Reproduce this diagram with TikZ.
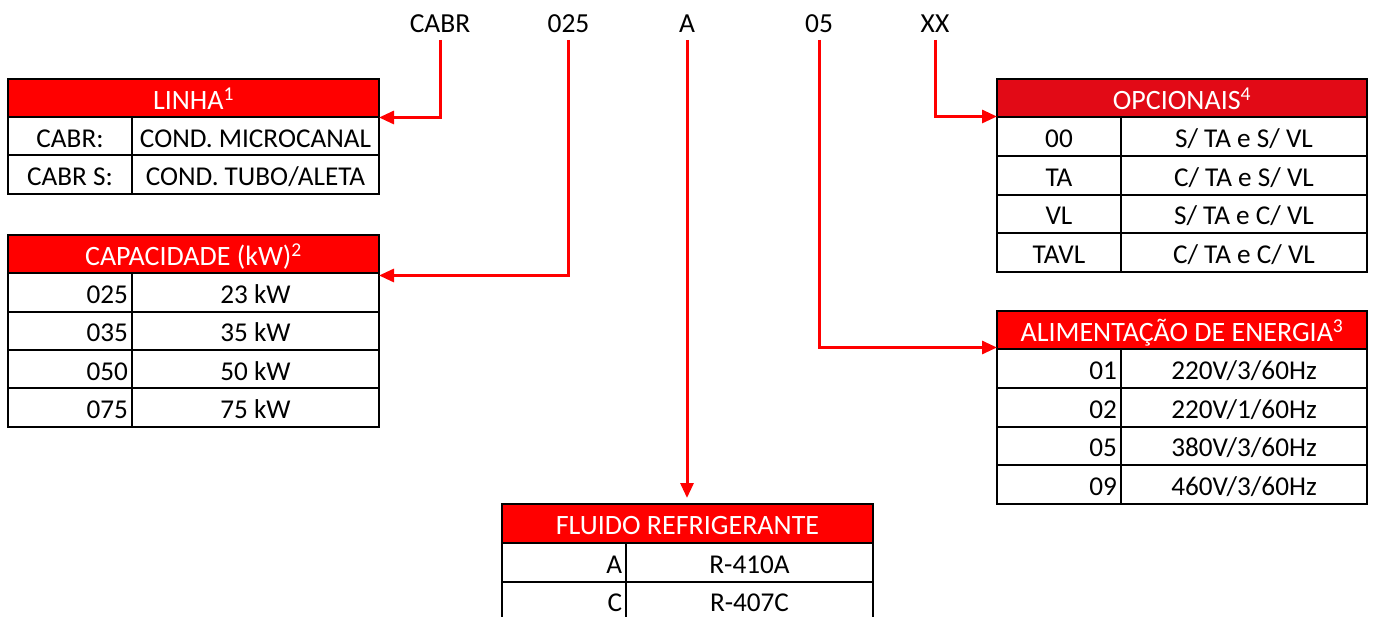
\documentclass[tikz,border=0pt]{standalone}
\usepackage{fontspec}
\setmainfont{Carlito}
\usetikzlibrary{arrows.meta}
\definecolor{hred}{RGB}{255,0,0}
\definecolor{hdark}{RGB}{226,10,22}
\definecolor{lred}{RGB}{255,0,0}
\tikzset{
 base/.style={font=\fontsize{27.2}{30}\selectfont, text height=22pt, text depth=0pt, inner sep=0pt, outer sep=0pt, anchor=north west, line width=2pt, draw=black},
 hdr/.style={base, fill=hred, text=white, font=\fontsize{28}{30}\selectfont, minimum height=38.5pt},
 cellc/.style={base, fill=white, align=center, minimum height=38.5pt},
 cellr/.style={base, fill=white, align=right, inner xsep=4pt, minimum height=38.5pt},
 code/.style={font=\fontsize{27.5}{30}\selectfont, text height=22pt, text depth=0pt, inner sep=0pt, outer sep=0pt},
 conn/.style={draw=lred, line width=3pt, -{Triangle[length=15pt,width=13pt]}}
}
\begin{document}
\begin{tikzpicture}[x=1pt,y=-1pt]
\useasboundingbox[fill=white] (0,0) rectangle (1374,617);
% top code
\node[code] (c1) at (440,22) {CABR};
\node[code] (c2) at (568.5,22) {025};
\node[code] (c3) at (687,22) {A};
\node[code] (c4) at (819,22) {05};
\node[code] (c5) at (935,22) {XX};
% LINHA
\node[hdr, minimum width=371pt] (linha) at (8,79) {LINHA\textsuperscript{1}};
\node[cellc, minimum width=124pt] (lin1a) at (8,117) {CABR:};
\node[cellc, minimum width=247pt] (lin1b) at (132,117) {COND. MICROCANAL};
\node[cellc, minimum width=124pt] (lin2a) at (8,155.5) {CABR S:};
\node[cellc, minimum width=247pt] (lin2b) at (132,155.5) {COND. TUBO/ALETA};
% CAPACIDADE
\node[hdr, minimum width=371pt] (cap) at (8,235) {CAPACIDADE (kW)\textsuperscript{2}};
\foreach \i/\a/\b in {1/025/23 kW,2/035/35 kW,3/050/50 kW,4/075/75 kW}{
  \node[cellr, text width=116pt] (cap\i a) at (8,{273.5+(\i-1)*38.2}) {\a};
  \node[cellc, minimum width=247pt] (cap\i b) at (132,{273.5+(\i-1)*38.2}) {\b};
}
% FLUIDO
\node[hdr, minimum width=371pt] (flu) at (502,504) {FLUIDO REFRIGERANTE};
\foreach \i/\a/\b in {1/A/R-410A,2/C/R-407C}{
  \node[cellr, text width=116pt] (flu\i a) at (502,{543+(\i-1)*38.5}) {\a};
  \node[cellc, minimum width=247pt] (flu\i b) at (626,{543+(\i-1)*38.5}) {\b};
}
% OPCIONAIS
\node[hdr, fill=hdark, minimum width=370pt] (opc) at (997,79) {OPCIONAIS\textsuperscript{4}};
\foreach \i/\a/\b in {1/00/{S/ TA e S/ VL},2/TA/{C/ TA e S/ VL},3/VL/{S/ TA e C/ VL},4/TAVL/{C/ TA e C/ VL}}{
  \node[cellc, minimum width=124pt] (opc\i a) at (997,{117.5+(\i-1)*38.6}) {\a};
  \node[cellc, minimum width=246pt] (opc\i b) at (1121,{117.5+(\i-1)*38.6}) {\b};
}
% ALIMENTACAO
\node[hdr, minimum width=370pt] (alim) at (997,311) {ALIMENTAÇÃO DE ENERGIA\textsuperscript{3}};
\foreach \i/\a/\b in {1/01/{220V/3/60Hz},2/02/{220V/1/60Hz},3/05/{380V/3/60Hz},4/09/{460V/3/60Hz}}{
  \node[cellr, text width=116pt] (alim\i a) at (997,{349.5+(\i-1)*38.6}) {\a};
  \node[cellc, minimum width=246pt] (alim\i b) at (1121,{349.5+(\i-1)*38.6}) {\b};
}
% connectors
\draw[conn, shorten <=7pt] (c1.south) |- (linha.south east);
\draw[conn, shorten <=7pt] (c2.south) |- ([yshift=-2pt]cap.south east);
\draw[conn, shorten <=7pt, shorten >=6pt] (c3.south) -- (c3.south |- flu.north);
\draw[conn, shorten <=7pt] (c4.south) |- ([yshift=2pt]alim.south west);
\draw[conn, shorten <=7pt] (c5.south) |- ([yshift=1pt]opc.south west);
\end{tikzpicture}
\end{document}
